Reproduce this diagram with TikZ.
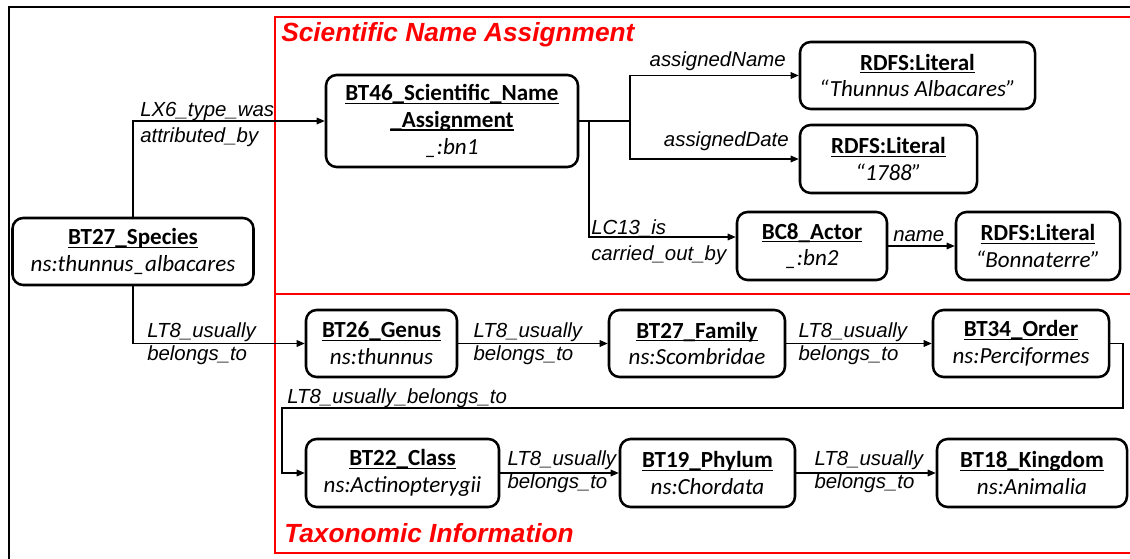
\documentclass[tikz,border=0pt]{standalone}
\usepackage{fontspec}
\setmainfont{Carlito}
\newfontfamily\arialf{Liberation Sans}
\usetikzlibrary{arrows.meta,calc}
\newsavebox\ulbox
\newcommand\uln[1]{\sbox\ulbox{#1}\leavevmode\rlap{\rule[-2.4pt]{\wd\ulbox}{0.95pt}}\usebox\ulbox}
\begin{document}
\begin{tikzpicture}[x=0.75pt,y=-0.75pt,
 box/.style={draw, line width=1.9pt, rounded corners=8pt, align=center, inner sep=0pt,
   font=\fontsize{17.3}{20}\selectfont},
 sz/.style 2 args={minimum width=#1*0.75pt, minimum height=#2*0.75pt},
 arr/.style={-{Triangle[length=6pt,width=5pt]}, line width=0.8pt},
 conn/.style={line width=0.8pt},
 lbl/.style={font=\arialf\itshape\fontsize{15.3}{17.5}\selectfont, align=left, inner sep=0pt},
 ttl/.style={font=\arialf\bfseries\itshape\fontsize{19.7}{23}\selectfont, text=red, inner sep=0pt, anchor=base west},
 frame/.style={line width=2.2pt},
 redf/.style={draw=red, line width=2.2pt}]
\useasboundingbox (0,0) rectangle (1130,559);
% frames
\draw[frame] (9,600) -- (9,7) -- (1140,7);
\draw[redf] (1140,17) -- (275,17) -- (275,553) -- (1140,553);
\draw[redf] (275,294) -- (1140,294);
\node[ttl] (t1) at (281,42) {Scientific Name Assignment};
\node[ttl] (t2) at (284,542) {Taxonomic Information};
% nodes
\node[box, sz={241}{67}] (sp) at (133,251.5) {\uln{\textbf{BT27\_Species}}\\\textit{ns:thunnus\_albacares}};
\node[box, sz={252}{92}] (bt46) at (452,121) {\uln{\textbf{BT46\_Scientific\_Name}}\\\uln{\textbf{\_Assignment}}\\\textit{\_:bn1}};
\node[box, sz={235}{67}] (lit1) at (917.5,75.5) {\uln{\textbf{RDFS:Literal}}\\\textit{“Thunnus Albacares”}};
\node[box, sz={177}{68}] (lit2) at (888.5,159) {\uln{\textbf{RDFS:Literal}}\\\textit{“1788”}};
\node[box, sz={150}{68}] (actor) at (812,246) {\uln{\textbf{BC8\_Actor}}\\\textit{\_:bn2}};
\node[box, sz={164}{68}] (lit3) at (1038,246) {\uln{\textbf{RDFS:Literal}}\\\textit{“Bonnaterre”}};
\node[box, sz={151}{67}] (genus) at (381.5,343.5) {\uln{\textbf{BT26\_Genus}}\\\textit{ns:thunnus}};
\node[box, sz={176}{67}] (family) at (697,343.5) {\uln{\textbf{BT27\_Family}}\\\textit{ns:Scombridae}};
\node[box, sz={176}{67}] (order) at (1021,343.5) {\uln{\textbf{BT34\_Order}}\\\textit{ns:Perciformes}};
\node[box, sz={193}{68}] (class) at (402.5,473) {\uln{\textbf{BT22\_Class}}\\\textit{ns:Actinopterygii}};
\node[box, sz={175}{68}] (phylum) at (707.5,473) {\uln{\textbf{BT19\_Phylum}}\\\textit{ns:Chordata}};
\node[box, sz={190}{68}] (kingdom) at (1032,473) {\uln{\textbf{BT18\_Kingdom}}\\\textit{ns:Animalia}};
% species connectors
\draw[arr] (sp.north) |- (bt46.west);
\node[lbl, anchor=west] (l1) at (140,124.5) {LX6\_type\_was\\[1.5pt]attributed\_by};
\draw[arr] (sp.south) |- (genus.west);
\node[lbl, anchor=west] (l2) at (147,344) {LT8\_usually\\belongs\_to};
% scientific name assignment
\coordinate (b1) at (630,121);
\coordinate (b2) at (589,121);
\coordinate (b3) at (589,237);
\draw[conn] (bt46.east) -- (b1);
\draw[arr] (b1) |- (lit1.west);
\draw[arr] (b1) |- (lit2.west);
\node[lbl, anchor=base east] (l3) at (786,67) {assignedName};
\node[lbl, anchor=base east] (l4) at (789,147) {assignedDate};
\draw[arr] (b2) -- (b3) -- (actor.west |- b3);
\node[lbl, anchor=west] (l5) at (591,242) {LC13\_is\\[2pt]carried\_out\_by};
\draw[arr] (actor.east) -- (lit3.west);
\node[lbl, anchor=base west] (l6) at (893,242) {name};
% taxonomy
\draw[arr] (genus.east) -- (family.west);
\node[lbl, anchor=west] (l7) at ($(genus.east)+(15,0.5)$) {LT8\_usually\\belongs\_to};
\draw[arr] (family.east) -- (order.west);
\node[lbl, anchor=west] (l8) at ($(family.east)+(12,0.5)$) {LT8\_usually\\belongs\_to};
\coordinate (c1) at (1123,408);
\coordinate (c2) at (282,408);
\draw[arr] (order.east) -| (c1) -- (c2) |- (class.west);
\node[lbl, anchor=base west] (l9) at (287,403) {LT8\_usually\_belongs\_to};
\draw[arr] (class.east) -- (phylum.west);
\node[lbl, anchor=west] (l10) at ($(class.east)+(7,-1.5)$) {LT8\_usually\\belongs\_to};
\draw[arr] (phylum.east) -- (kingdom.west);
\node[lbl, anchor=west] (l11) at ($(phylum.east)+(18,-1.5)$) {LT8\_usually\\belongs\_to};
\end{tikzpicture}
\end{document}
